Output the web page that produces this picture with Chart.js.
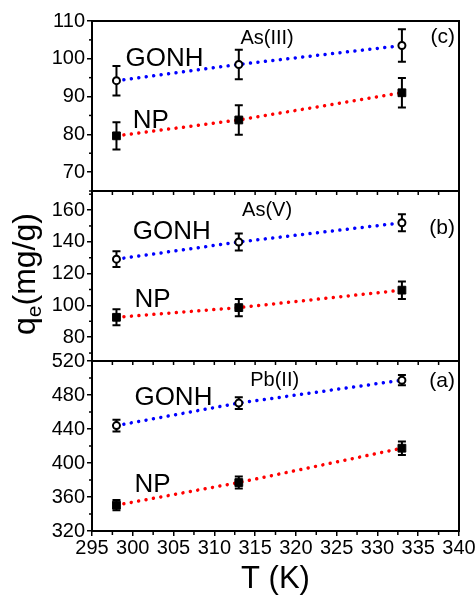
<!DOCTYPE html>
<html>
<head>
<meta charset="utf-8">
<script src="https://cdn.jsdelivr.net/npm/chart.js@4.4.0/dist/chart.umd.min.js"></script>
<style>
  html, body { margin: 0; padding: 0; background: #fff; }
  #wrap { width: 476px; height: 595px; position: relative; }
</style>
</head>
<body>
<div id="wrap"><canvas id="qeChart" width="476" height="595"></canvas></div>
<script>
// temperatures (K)
const temps = [298, 313, 333];

// (c) As(III)
const as3Gonh = [94.2, 98.5, 103.5];
const as3GonhErr = [3.9, 3.9, 4.3];
const as3Np = [79.6, 83.8, 91.0];
const as3NpErr = [3.6, 3.9, 3.9];

// (b) As(V)
const as5Gonh = [129.1, 139.9, 152.0];
const as5GonhErr = [4.9, 5.4, 5.4];
const as5Np = [92.5, 98.6, 109.6];
const as5NpErr = [5.0, 5.5, 5.5];

// (a) Pb(II)
const pbGonh = [444, 470.5, 497.4];
const pbGonhErr = [7, 7, 6];
const pbNp = [350.4, 377, 417.4];
const pbNpErr = [6, 7, 8];

// tick labels
const xTickLabels = [295, 300, 305, 310, 315, 320, 325, 330, 335, 340];
const yTicksC = [70, 80, 90, 100, 110];
const yTicksB = [80, 100, 120, 140, 160];
const yTicksA = [320, 360, 400, 440, 480, 520];

const FONT = "'Liberation Sans', Arial, sans-serif";

function series(vals, errs) {
  return vals.map((v, i) => ({ x: temps[i], y: v, err: errs[i] }));
}

function gonh(vals, errs, axis) {
  return {
    data: series(vals, errs), yAxisID: axis,
    borderColor: '#0000ff', borderWidth: 3.5, borderDash: [0.01, 7.5], borderCapStyle: 'round',
    pointStyle: 'circle', pointRadius: 3.5, pointBackgroundColor: '#fff',
    pointBorderColor: '#000', pointBorderWidth: 2
  };
}
function np(vals, errs, axis) {
  return {
    data: series(vals, errs), yAxisID: axis,
    borderColor: '#ff0000', borderWidth: 3.5, borderDash: [0.01, 7.5], borderCapStyle: 'round',
    pointStyle: 'rect', pointRadius: 5.5, pointBackgroundColor: '#000',
    pointBorderColor: '#000', pointBorderWidth: 1
  };
}

// text inside the panels, placed in data units
const notes = [
  { t: 'GONH', x: 299.1, y: 100.1, axis: 'yC', size: 26 },
  { t: 'NP', x: 300.0, y: 83.6, axis: 'yC', size: 26 },
  { t: 'As(III)', x: 313.2, y: 105.4, axis: 'yC', size: 20 },
  { t: '(c)', x: 339.5, y: 105.8, axis: 'yC', size: 21, align: 'right' },
  { t: 'GONH', x: 300.0, y: 146.0, axis: 'yB', size: 26 },
  { t: 'NP', x: 300.2, y: 103.3, axis: 'yB', size: 26 },
  { t: 'As(V)', x: 313.4, y: 160.0, axis: 'yB', size: 20 },
  { t: '(b)', x: 339.5, y: 148.8, axis: 'yB', size: 21, align: 'right' },
  { t: 'GONH', x: 300.2, y: 477, axis: 'yA', size: 26 },
  { t: 'NP', x: 300.2, y: 373.8, axis: 'yA', size: 26 },
  { t: 'Pb(II)', x: 314.4, y: 496.6, axis: 'yA', size: 20 },
  { t: '(a)', x: 339.5, y: 496.6, axis: 'yA', size: 21, align: 'right' }
];

// error bars under the markers
const errorBars = {
  id: 'errorBars',
  beforeDatasetsDraw(chart) {
    const ctx = chart.ctx;
    ctx.save();
    ctx.strokeStyle = '#000';
    ctx.lineWidth = 2;
    chart.data.datasets.forEach((ds, i) => {
      const ys = chart.scales[ds.yAxisID];
      chart.getDatasetMeta(i).data.forEach((pt, j) => {
        const d = ds.data[j];
        const top = ys.getPixelForValue(d.y + d.err);
        const bot = ys.getPixelForValue(d.y - d.err);
        ctx.beginPath();
        ctx.moveTo(pt.x, top); ctx.lineTo(pt.x, bot);
        ctx.moveTo(pt.x - 4, top); ctx.lineTo(pt.x + 4, top);
        ctx.moveTo(pt.x - 4, bot); ctx.lineTo(pt.x + 4, bot);
        ctx.stroke();
      });
    });
    ctx.restore();
  }
};

// panel frames, short minor ticks, inner tick marks, texts
const panels = {
  id: 'panels',
  afterDraw(chart) {
    const { ctx, chartArea } = chart;
    const xs = chart.scales.x;
    ctx.save();
    ctx.strokeStyle = '#000';
    ctx.lineWidth = 2;
    ['yA', 'yB', 'yC'].forEach(id => {
      const s = chart.scales[id];
      ctx.strokeRect(chartArea.left, s.top, chartArea.right - chartArea.left, s.bottom - s.top);
    });
    ctx.lineWidth = 1.5;
    // minor ticks on the y axes
    [['yA', yTicksA], ['yB', yTicksB], ['yC', yTicksC]].forEach(([id, labels]) => {
      const s = chart.scales[id];
      s.ticks.forEach(t => {
        if (labels.includes(t.value)) return;
        const py = s.getPixelForValue(t.value);
        ctx.beginPath(); ctx.moveTo(chartArea.left, py); ctx.lineTo(chartArea.left - 3, py); ctx.stroke();
      });
    });
    // minor ticks on the bottom x axis
    xs.ticks.forEach(t => {
      if (xTickLabels.includes(t.value)) return;
      const px = xs.getPixelForValue(t.value);
      ctx.beginPath(); ctx.moveTo(px, chartArea.bottom); ctx.lineTo(px, chartArea.bottom + 4); ctx.stroke();
    });
    // ticks under the inner panel edges
    ['yB', 'yC'].forEach(id => {
      const s = chart.scales[id];
      xs.ticks.forEach(t => {
        const px = xs.getPixelForValue(t.value);
        ctx.beginPath(); ctx.moveTo(px, s.bottom); ctx.lineTo(px, s.bottom + 4); ctx.stroke();
      });
    });

    ctx.fillStyle = '#000';
    ctx.textBaseline = 'middle';
    notes.forEach(n => {
      ctx.font = n.size + 'px ' + FONT;
      ctx.textAlign = n.align || 'left';
      ctx.fillText(n.t, xs.getPixelForValue(n.x), chart.scales[n.axis].getPixelForValue(n.y));
    });

    // y axis title q_e(mg/g)
    ctx.translate(35, 274);
    ctx.rotate(-Math.PI / 2);
    ctx.textBaseline = 'alphabetic';
    ctx.textAlign = 'left';
    const big = '32px ' + FONT, small = '21px ' + FONT;
    ctx.font = big; const wq = ctx.measureText('q').width;
    const wr = ctx.measureText('(mg/g)').width;
    ctx.font = small; const we = ctx.measureText('e').width;
    let x0 = -(wq + we + wr) / 2;
    ctx.font = big; ctx.fillText('q', x0, 0);
    ctx.font = small; ctx.fillText('e', x0 + wq, 6);
    ctx.font = big; ctx.fillText('(mg/g)', x0 + wq + we, 0);
    ctx.restore();
  }
};

function yAxis(min, max, step, labels) {
  return {
    type: 'linear', position: 'left', stack: 'panels', stackWeight: 1,
    min: min, max: max,
    border: { display: true, color: '#000', width: 2 },
    grid: {
      drawOnChartArea: false, tickLength: 5, lineWidth: 1.5,
      tickColor: c => labels.includes(c.tick && c.tick.value) ? '#000' : 'rgba(0,0,0,0)'
    },
    ticks: {
      stepSize: step, includeBounds: false, autoSkip: false, padding: 2,
      color: '#000', font: { family: FONT, size: 20 },
      callback: v => labels.includes(v) ? String(v) : ''
    },
    afterFit: s => { s.width = 92; }
  };
}

new Chart(document.getElementById('qeChart'), {
  type: 'line',
  data: {
    datasets: [
      gonh(as3Gonh, as3GonhErr, 'yC'), np(as3Np, as3NpErr, 'yC'),
      gonh(as5Gonh, as5GonhErr, 'yB'), np(as5Np, as5NpErr, 'yB'),
      gonh(pbGonh, pbGonhErr, 'yA'), np(pbNp, pbNpErr, 'yA')
    ]
  },
  options: {
    responsive: false,
    animation: false,
    layout: { padding: { top: 21, left: 0, right: 17, bottom: 0 } },
    plugins: { legend: { display: false }, tooltip: { enabled: false } },
    scales: {
      x: {
        type: 'linear', min: 295, max: 340,
        border: { display: true, color: '#000', width: 2 },
        grid: {
          drawOnChartArea: false, tickLength: 5, lineWidth: 1.5,
          tickColor: c => xTickLabels.includes(c.tick && c.tick.value) ? '#000' : 'rgba(0,0,0,0)'
        },
        ticks: {
          stepSize: 2.5, autoSkip: false, maxRotation: 0, padding: 0,
          color: '#000', font: { family: FONT, size: 20 },
          callback: v => xTickLabels.includes(v) ? String(v) : ''
        },
        title: { display: true, text: 'T (K)', color: '#000', padding: 0,
                 font: { family: FONT, size: 31, lineHeight: 1 } },
        afterFit: s => { s.height = 64; }
      },
      yA: yAxis(320, 520, 20, yTicksA),
      yB: yAxis(65, 172, 10, yTicksB),
      yC: yAxis(65, 110, 5, yTicksC)
    }
  },
  plugins: [errorBars, panels]
});
</script>
</body>
</html>
